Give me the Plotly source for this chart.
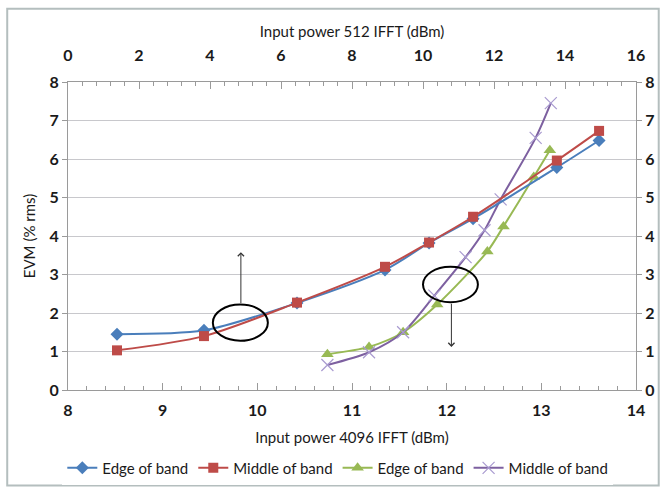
import plotly.graph_objects as go

# Series on the top axis (Input power 512 IFFT)
x512 = [1.38, 3.83, 6.45, 8.93, 10.17, 11.41, 13.77, 14.96]
edge512 = [1.45, 1.55, 2.26, 3.12, 3.82, 4.45, 5.78, 6.48]
mid512 = [1.03, 1.40, 2.27, 3.20, 3.83, 4.50, 5.96, 6.73]

# Series on the bottom axis (Input power 4096 IFFT)
x4096_edge = [10.74, 11.18, 11.54, 11.90, 12.43, 12.60, 12.92, 13.09]
edge4096 = [0.93, 1.12, 1.50, 2.22, 3.60, 4.25, 5.53, 6.23]
x4096_mid = [10.74, 11.18, 11.54, 11.87, 12.20, 12.40, 12.57, 12.94, 13.10]
mid4096 = [0.65, 0.98, 1.50, 2.45, 3.45, 4.15, 4.95, 6.55, 7.45]

legend_names = ["Edge of band", "Middle of band", "Edge of band", "Middle of band"]

BLUE = "#4a7ebb"
RED = "#be4b48"
GREEN = "#98b954"
PURPLE = "#7d60a0"

FONT = "Lato, Open Sans, sans-serif"

fig = go.Figure()
fig.add_trace(go.Scatter(x=x512, y=edge512, name=legend_names[0], xaxis="x2", yaxis="y",
                         mode="lines+markers", line=dict(color=BLUE, width=2, shape="spline", smoothing=0.8),
                         marker=dict(symbol="diamond", size=10, color=BLUE)))
fig.add_trace(go.Scatter(x=x512, y=mid512, name=legend_names[1], xaxis="x2", yaxis="y",
                         mode="lines+markers", line=dict(color=RED, width=2, shape="spline", smoothing=0.8),
                         marker=dict(symbol="square", size=10, color=RED)))
fig.add_trace(go.Scatter(x=x4096_edge, y=edge4096, name=legend_names[2], xaxis="x", yaxis="y",
                         mode="lines+markers", line=dict(color=GREEN, width=2, shape="spline", smoothing=0.8),
                         marker=dict(symbol="triangle-up", size=11, color=GREEN)))
fig.add_trace(go.Scatter(x=x4096_mid, y=mid4096, name=legend_names[3], xaxis="x", yaxis="y",
                         mode="lines+markers", line=dict(color=PURPLE, width=2, shape="spline", smoothing=0.8),
                         marker=dict(symbol="x-thin-open", size=12, color="#a99bd0", line=dict(width=1.2, color="#a99bd0"))))

axis_line = "#9a9a9a"
tickfont = dict(family=FONT, size=16, color="#1a1a1a", weight="bold")
titlefont = dict(family=FONT, size=15, color="#1a1a1a")

fig.update_layout(
    width=665, height=489,
    paper_bgcolor="white", plot_bgcolor="white",
    margin=dict(l=68, r=29, t=82, b=99, autoexpand=False),
    showlegend=True,
    legend=dict(orientation="h", x=0.475, xanchor="center", y=-0.2, yanchor="top",
                font=dict(family=FONT, size=15, color="#1a1a1a"), itemwidth=30,
                tracegroupgap=0),
    xaxis=dict(range=[8, 14], dtick=1, tick0=8, showgrid=False, showline=True, linecolor=axis_line,
               linewidth=1, ticks="inside", ticklen=7, tickcolor=axis_line,
               minor=dict(dtick=0.2, ticks="inside", ticklen=4, tickcolor=axis_line),
               tickfont=tickfont, zeroline=False, ticklabelstandoff=6,
               title=dict(text="Input power 4096 IFFT (dBm)", font=titlefont, standoff=14)),
    xaxis2=dict(range=[0, 16], dtick=2, tick0=0, overlaying="x", side="top", anchor="y",
                showgrid=False, showline=True, linecolor=axis_line, linewidth=1,
                ticks="inside", ticklen=7, tickcolor=axis_line,
                minor=dict(dtick=0.4, ticks="inside", ticklen=4, tickcolor=axis_line),
                tickfont=tickfont, zeroline=False, ticklabelstandoff=14,
                title=dict(text="Input power 512 IFFT (dBm)", font=titlefont, standoff=3)),
    yaxis=dict(range=[0, 8], dtick=1, tick0=0, showgrid=True, gridcolor="#c8c8cc", gridwidth=1,
               showline=True, linecolor=axis_line, linewidth=1, ticks="outside", ticklen=5,
               tickcolor=axis_line, tickfont=tickfont, zeroline=False,
               title=dict(text="EVM (% rms)", font=titlefont, standoff=10)),
    yaxis2=dict(range=[0, 8], dtick=1, tick0=0, overlaying="y", side="right", anchor="x",
                showgrid=False, showline=True, linecolor=axis_line, linewidth=1, ticks="outside",
                ticklen=5, tickcolor=axis_line, tickfont=tickfont, zeroline=False),
)

# Invisible trace to activate right axis
fig.add_trace(go.Scatter(x=[None], y=[None], xaxis="x", yaxis="y2", showlegend=False, hoverinfo="skip"))

# Ellipses grouping series to their axes
fig.add_shape(type="circle", xref="x2", yref="y", x0=4.08, x1=5.63, y0=1.28, y1=2.22,
              line=dict(color="black", width=2))
fig.add_shape(type="circle", xref="x", yref="y", x0=11.75, x1=12.33, y0=2.28, y1=3.2,
              line=dict(color="black", width=2))
fig.add_annotation(x=4.87, y=3.58, xref="x2", yref="y", ax=4.87, ay=2.22, axref="x2", ayref="y",
                   showarrow=True, arrowhead=4, arrowsize=1.2, arrowwidth=1, arrowcolor="#333", text="")
fig.add_annotation(x=12.05, y=1.12, xref="x", yref="y", ax=12.05, ay=2.28, axref="x", ayref="y",
                   showarrow=True, arrowhead=4, arrowsize=1.2, arrowwidth=1, arrowcolor="#333", text="")

# Outer chart frame
fig.add_shape(type="rect", xref="paper", yref="paper", x0=-0.107, x1=1.04, y0=-0.31, y1=1.238,
              line=dict(color="#b4bebe", width=2))

fig.write_html("out.html", config={"displayModeBar": False},
               post_script="document.body.style.margin='0';document.body.style.overflow='hidden';")
